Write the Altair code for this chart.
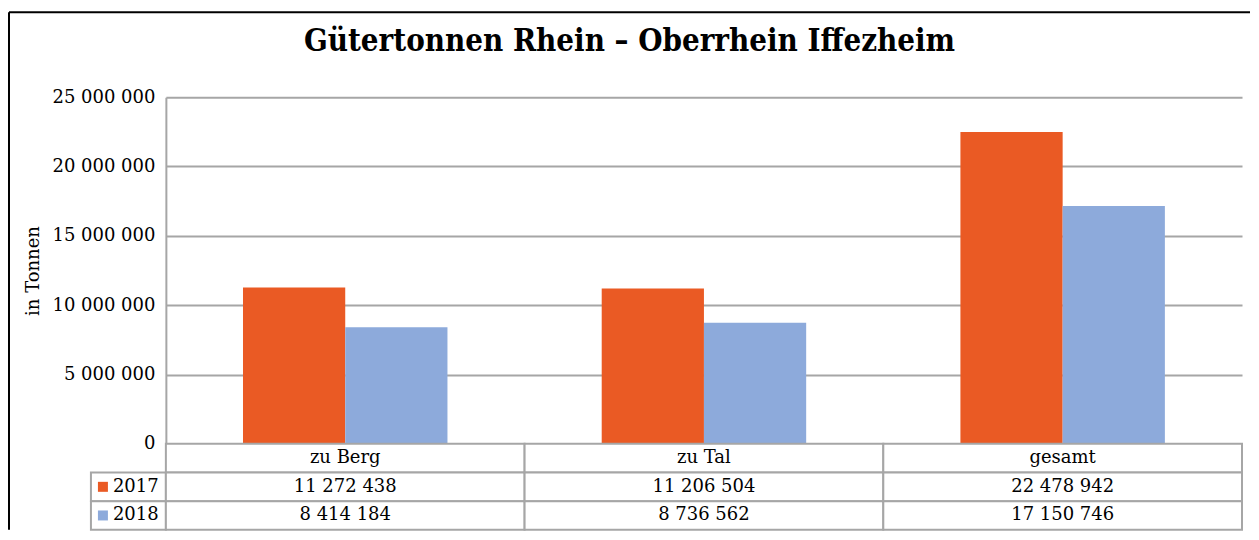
import altair as alt
import pandas as pd

# ---- data ----
categories = ["zu Berg", "zu Tal", "gesamt"]
years = ["2017", "2018"]
values_2017 = [11272438, 11206504, 22478942]
values_2018 = [8414184, 8736562, 17150746]
y_ticks = [0, 5000000, 10000000, 15000000, 20000000, 25000000]
title_text = "Gütertonnen Rhein – Oberrhein Iffezheim"
y_title = "in Tonnen"
header_key = "Kategorie"
row_order = [header_key] + years

# ---- styles ----
colors = ["#EA5A24", "#8DAADB"]
FONT = "DejaVu Serif"
GRID = "#A6A6A6"
TXT = "#000000"


def fmt(v):
    return f"{v:,}".replace(",", " ")


series = {"2017": values_2017, "2018": values_2018}

bars_df = pd.DataFrame(
    [{"Kategorie": c, "Jahr": y, "Wert": series[y][i]}
     for i, c in enumerate(categories) for y in years]
)

table_rows = []
for i, c in enumerate(categories):
    table_rows.append({"Spalte": c, "Zeile": header_key, "Text": c})
    for y in years:
        table_rows.append({"Spalte": c, "Zeile": y, "Text": fmt(series[y][i])})
table_df = pd.DataFrame(table_rows)

legend_df = pd.DataFrame({"Zeile": years, "Jahr": years, "Legende": ["Jahr", "Jahr"]})
frame_df = pd.DataFrame({"f": [0]})

color_scale = alt.Scale(domain=years, range=colors)
row_scale = alt.Scale(domain=row_order, paddingInner=0, paddingOuter=0)

# ---- bar chart ----
bar = alt.Chart(bars_df).mark_bar().encode(
    x=alt.X("Kategorie:N", sort=categories,
            scale=alt.Scale(paddingInner=0.43, paddingOuter=0.215), axis=None),
    xOffset=alt.XOffset("Jahr:N", sort=years,
                        scale=alt.Scale(paddingInner=0, paddingOuter=0)),
    y=alt.Y("Wert:Q", scale=alt.Scale(domain=[0, 25000000], nice=False),
            axis=alt.Axis(values=y_ticks, title=y_title,
                          labelExpr="replace(format(datum.value, ','), regexp(',', 'g'), ' ')",
                          grid=True, gridColor=GRID, gridWidth=2,
                          domain=True, domainColor=GRID, domainWidth=2,
                          ticks=False, tickSize=0, labelPadding=11,
                          labelFont=FONT, labelFontSize=18, labelColor=TXT,
                          titleFont=FONT, titleFontSize=18, titleFontWeight="normal",
                          titleColor=TXT, titlePadding=9)),
    color=alt.Color("Jahr:N", sort=years, scale=color_scale, legend=None),
).properties(width=1077, height=347)

# ---- data table ----
tbase = alt.Chart(table_df).encode(
    x=alt.X("Spalte:N", sort=categories,
            scale=alt.Scale(paddingInner=0, paddingOuter=0), axis=None),
    y=alt.Y("Zeile:N", scale=row_scale, axis=None),
)
cells = tbase.mark_rect(fill="white", stroke=GRID, strokeWidth=2)
texts = tbase.mark_text(font=FONT, fontSize=18, color=TXT).encode(text="Text:N")
table = alt.layer(cells, texts).properties(width=1077, height=86)

# ---- legend column of the table ----
lbase = alt.Chart(legend_df).encode(
    y=alt.Y("Zeile:N", scale=row_scale, axis=None),
)
lcells = lbase.mark_rect(fill="white", stroke=GRID, strokeWidth=2).encode(
    x=alt.X("Legende:N", scale=alt.Scale(paddingInner=0, paddingOuter=0), axis=None)
)
lsym = lbase.mark_square(size=100, opacity=1).encode(
    x=alt.value(12),
    color=alt.Color("Jahr:N", sort=years, scale=color_scale, legend=None),
)
ltxt = lbase.mark_text(font=FONT, fontSize=18, color=TXT, align="left").encode(
    x=alt.value(22), text="Jahr:N"
)
legend_col = alt.layer(lcells, lsym, ltxt).properties(width=75, height=86)

# ---- outer frame (decoration) ----
frame_top = alt.Chart(frame_df).mark_rule(color="#000000", strokeWidth=2).encode(
    x=alt.value(-82), x2=alt.value(1160), y=alt.value(-85)
)
frame_left = alt.Chart(frame_df).mark_rule(color="#000000", strokeWidth=2).encode(
    x=alt.value(-82), y=alt.value(-85), y2=alt.value(433)
)
placeholder = alt.layer(frame_top, frame_left).properties(width=75, height=347)

chart = alt.concat(
    placeholder, bar, legend_col, table, columns=2, spacing=0, bounds="flush"
).resolve_scale(
    x="independent", y="independent"
).properties(
    title=alt.TitleParams(text=title_text, font="DejaVu Serif Condensed, Liberation Serif",
                          fontSize=31, fontWeight="bold", color=TXT,
                          anchor="middle", frame="bounds", offset=-30, dy=41,
                          baseline="alphabetic"),
    padding={"left": 0, "top": 3, "right": 0, "bottom": 0},
).configure_view(stroke=None)

chart.save("out.html", embed_options={"renderer": "svg", "actions": False})
